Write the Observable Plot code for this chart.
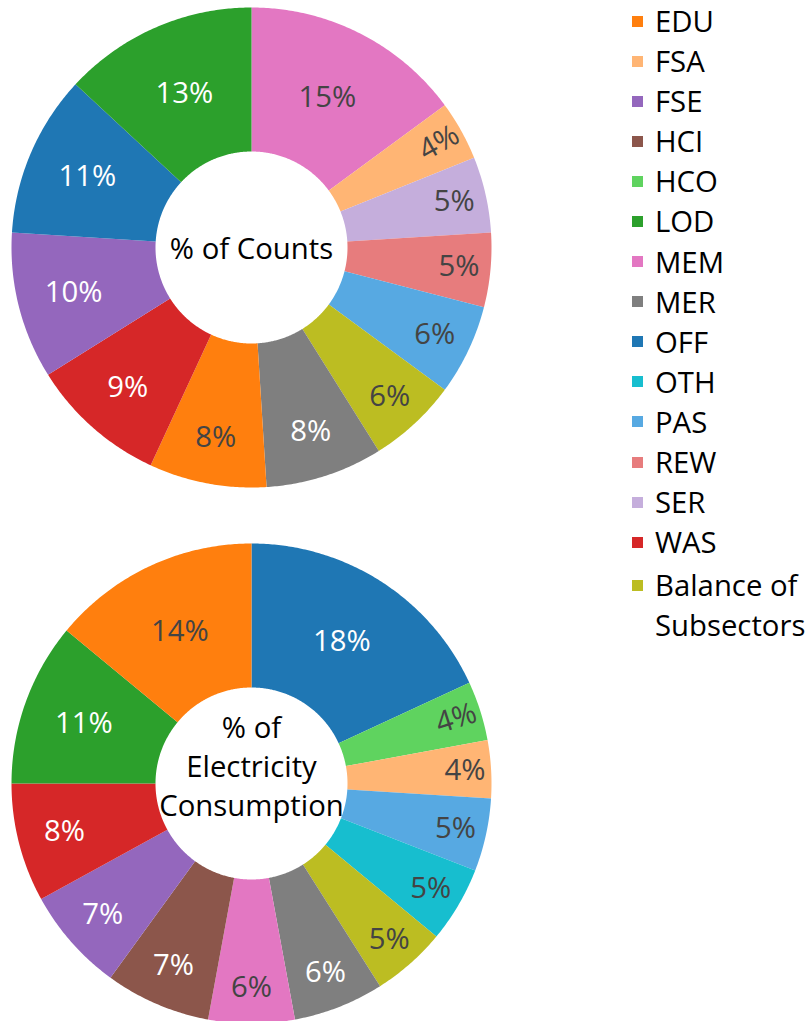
<!DOCTYPE html>
<html><head><meta charset="utf-8">
<script src="https://cdn.jsdelivr.net/npm/d3@7"></script>
<script src="https://cdn.jsdelivr.net/npm/@observablehq/plot@0.6"></script>
<style>
body{margin:0;background:#fff;font-family:"Open Sans",sans-serif;}
#wrap{position:relative;width:808px;height:1021px;overflow:hidden;}
#legend{position:absolute;left:632px;top:1px;font-size:29.3px;color:#000;font-family:"Open Sans",sans-serif;}
.item{display:flex;align-items:flex-start;line-height:40.1px;}
.item.multi{margin-top:3px;}
.sw{width:11px;height:11px;margin-top:14.5px;margin-right:12px;flex:none;box-shadow:0 0 0 0.5px rgba(255,255,255,0.6);}
</style></head><body><div id="wrap"></div>
<script>
// Legend categories and colours
const sectors = ["EDU","FSA","FSE","HCI","HCO","LOD","MEM","MER","OFF","OTH","PAS","REW","SER","WAS","Balance of Subsectors"];
const sectorColors = ["#ff7f0e","#ffb574","#9467bd","#8c564b","#5fd35f","#2ca02c","#e377c2","#7f7f7f","#1f77b4","#17becf","#57a9e2","#e77c7d","#c5aedc","#d62728","#bcbd22"];

// Top donut: % of counts (clockwise from 12 o'clock)
const countLabels = ["MEM","FSA","SER","REW","PAS","Balance of Subsectors","MER","EDU","WAS","FSE","OFF","LOD"];
const countValues = [14.9,4.0,5.1,5.0,6.1,6.0,7.9,7.9,9.2,9.9,10.9,13.1];

// Bottom donut: % of electricity consumption (clockwise from 12 o'clock)
const elecLabels = ["OFF","HCO","FSA","PAS","OTH","Balance of Subsectors","MER","MEM","HCI","FSE","WAS","LOD","EDU"];
const elecValues = [18.1,4.0,3.9,4.9,5.1,5.0,6.1,5.8,7.1,7.0,8.0,11.0,14.0];

const centerTitles = ["% of Counts", "% of\nElectricity\nConsumption"];

(function () {
// ---- geometry helpers (unit radius donuts) ----
const W = 808, H = 1021;
const unit = 240;            // px per unit radius
const hole = 0.4;
const fs = 29.3;
const cx = 251 / unit;       // offset of centers from left edge
const topCy = 0, botCy = -536 / unit;
const colorOf = new Map(sectors.map((s, i) => [s, sectorColors[i]]));
function isLight(hex) {
  const c = d3.rgb(hex);
  return (c.r * 299 + c.g * 587 + c.b * 114) / 1000 >= 128;
}

function donut(labels, values, cy) {
  const total = d3.sum(values);
  let acc = 0;
  const slices = [], texts = [];
  labels.forEach((label, i) => {
    const a0 = acc / total * 2 * Math.PI;
    acc += values[i];
    const a1 = acc / total * 2 * Math.PI;
    const n = Math.max(4, Math.ceil((a1 - a0) / (Math.PI / 360)));
    const ring = [];
    for (let k = 0; k <= n; ++k) { const a = a0 + (a1 - a0) * k / n; ring.push([Math.sin(a), cy + Math.cos(a)]); }
    for (let k = n; k >= 0; --k) { const a = a0 + (a1 - a0) * k / n; ring.push([hole * Math.sin(a), cy + hole * Math.cos(a)]); }
    ring.push(ring[0]);
    slices.push({type: "Feature", properties: {label}, geometry: {type: "Polygon", coordinates: [ring]}});
    const pct = values[i] / total * 100;
    const mid = (a0 + a1) / 2;
    const midDeg = mid * 180 / Math.PI;
    let rot = 0;
    if (pct < 4.5) { rot = midDeg - 90; if (Math.abs(rot) < 8) rot = 0; }
    const r = rot !== 0 ? 0.895 : 0.70 + 0.021 * Math.max(0, 13 - pct);
    texts.push({x: r * Math.sin(mid), y: cy + r * Math.cos(mid), text: Math.round(pct) + "%", rot, light: isLight(colorOf.get(label))});
  });
  return {slices, texts};
}

const donutA = donut(countLabels, countValues, topCy);
const donutB = donut(elecLabels, elecValues, botCy);
const slices = [...donutA.slices, ...donutB.slices];
const texts = [...donutA.texts, ...donutB.texts];

const x0 = -cx, x1 = (W / unit) - cx, yTop = 247 / unit, yBot = yTop - H / unit;
const frame = {type: "Polygon", coordinates: [[[x0, yBot], [x1, yBot], [x1, yTop], [x0, yTop], [x0, yBot]]]};

const chart = Plot.plot({
  width: W, height: H,
  margin: 0,
  projection: {type: "reflect-y", domain: frame, inset: 0},
  color: {type: "ordinal", domain: sectors, range: sectorColors},
  style: {fontFamily: "Open Sans", background: "white", overflow: "visible"},
  marks: [
    Plot.geo(slices, {fill: d => d.properties.label}),
    Plot.text(texts.filter(d => d.light), {x: "x", y: "y", text: "text", rotate: "rot", fill: "#444", fontSize: fs}),
    Plot.text(texts.filter(d => !d.light), {x: "x", y: "y", text: "text", rotate: "rot", fill: "white", fontSize: fs}),
    Plot.text([{x: 0, y: topCy, t: centerTitles[0]}], {x: "x", y: "y", text: "t", fill: "black", fontSize: fs, dy: 2}),
    Plot.text([{x: 0, y: botCy, t: centerTitles[1]}], {x: "x", y: "y", text: "t", fill: "black", fontSize: fs, lineHeight: 1.33, dy: -19})
  ]
});

const wrap = document.getElementById("wrap");
wrap.appendChild(chart);
const legend = document.createElement("div");
legend.id = "legend";
sectors.forEach((s, i) => {
  const item = document.createElement("div");
  item.className = "item" + (s.includes(" ") ? " multi" : "");
  const sw = document.createElement("div");
  sw.className = "sw";
  sw.style.background = sectorColors[i];
  const lab = document.createElement("div");
  lab.innerHTML = s === "Balance of Subsectors" ? "Balance of<br>Subsectors" : s;
  item.appendChild(sw); item.appendChild(lab);
  legend.appendChild(item);
});
wrap.appendChild(legend);
})();
</script>
</body></html>
